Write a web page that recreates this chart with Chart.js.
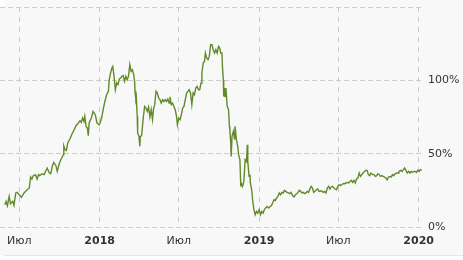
<!DOCTYPE html>
<html>
<head>
<meta charset="utf-8">
<script src="https://cdn.jsdelivr.net/npm/chart.js@4.4.1/dist/chart.umd.min.js"></script>
<style>
html,body{margin:0;padding:0;background:#fff;}
#wrap{position:relative;width:463px;height:255px;background:#f8f8f8;}
#corner{position:absolute;left:0;top:0;width:4px;height:7px;background:#fff;}
#foot{position:absolute;left:4px;top:255px;width:459px;height:1px;background:#e6e6e6;}
canvas{position:absolute;left:0;top:0;}
</style>
</head>
<body>
<div id="wrap"><canvas id="c" width="463" height="255"></canvas><div id="corner"></div></div>
<div id="foot"></div>
<script>
// days since 1 Jul 2017
const days = [-33,-30,-27,-23,-20,-15,-12,-8,-5,0,5,11,17,23,26,29,32,37,41,44,47,52,57,61,64,69,72,76,79,84,87,92,96,101,102,105,108,111,116,121,125,130,134,139,142,145,148,150,153,156,158,160,165,169,174,178,183,
185,189,192,196,200,204,206,209,212,214,217,220,223,226,229,232,235,238,241,244,247,250,253,256,259,262,264,265,267,268,270,271,274,276,277,280,282,284,287,290,293,296,299,302,305,307,310,313,316,319,322,325,328,331,334,337,340,343,
345,348,351,354,357,360,362,365,368,371,374,377,380,383,386,389,392,395,398,401,404,407,410,413,416,418,421,424,426,429,432,435,438,441,444,447,450,453,456,459,461,464,465,467,468,470,471,473,476,479,481,482,484,485,487,490,493,494,497,500,502,505,507,508,511,514,517,520,522,523,526,528,529,532,534,537,540,543,546,549,552,555,558,561,564,567,571,574,
577,580,583,586,589,592,595,598,601,604,607,610,613,616,619,622,626,629,632,635,638,641,644,647,650,653,656,659,662,665,668,671,674,677,680,683,686,690,693,696,699,702,705,708,711,714,717,720,723,726,729,732,735,738,741,745,748,751,754,757,760,763,766,769,772,775,778,781,784,787,790,793,796,799,802,805,809,812,815,818,821,824,827,830,833,836,839,842,845,848,851,854,857,860,864,867,869,873,876,879,882,885,888,891,894,897,900,903,906,909,912,915,918,921];
// change, %
const values = [15.2,17.5,14.5,20.9,15.9,17.5,14.7,23.2,23.6,22.0,20.2,23.2,25.0,26.6,34.1,32.7,35.0,35.7,32.7,35.7,35.0,36.3,35.7,38.4,40.2,36.8,36.3,41.8,44.0,41.8,37.9,43.6,46.4,49.3,55.4,52.7,52.2,57.3,60.0,63.6,65.9,69.1,70.4,72.5,71.3,74.3,72.0,75.4,68.6,67.5,62.2,70.9,74.3,78.8,76.6,70.9,69.7,
70.9,75.0,80.0,85.6,90.2,92.5,100.4,105.0,108.4,109.5,102.7,93.6,98.2,97.0,100.9,101.6,102.7,103.2,99.3,102.7,100.4,102.7,110.7,106.1,107.2,103.8,99.3,92.5,86.8,88.0,75.4,64.1,61.8,55.0,61.8,62.2,68.6,75.0,82.2,81.1,78.8,81.8,75.0,80.0,73.2,80.0,83.4,92.5,91.4,88.0,86.8,84.5,86.8,85.6,86.8,85.6,87.3,84.5,
88.8,83.4,84.5,82.2,80.0,75.4,69.7,74.3,73.2,76.6,81.1,82.2,86.8,91.4,92.5,93.6,91.4,83.4,91.4,90.2,94.8,95.9,93.6,93.6,98.2,105.0,111.8,112.9,118.6,115.2,114.1,116.3,124.3,124.3,120.9,118.6,120.9,118.6,123.1,122.0,118.6,118.6,109.5,100.4,89.0,94.8,89.0,94.8,82.2,80.0,68.6,66.3,57.3,48.1,61.8,65.2,59.5,68.6,59.5,55.0,49.3,45.9,27.7,30.0,27.7,31.1,45.9,44.7,56.1,44.7,34.5,35.7,30.0,25.4,18.6,11.8,8.4,10.6,9.5,11.8,8.4,10.6,9.5,11.8,13.0,14.0,13.0,14.0,
14.5,16.4,18.6,18.1,19.8,20.9,23.2,22.0,23.6,23.2,25.0,24.3,23.6,23.2,22.7,23.6,21.3,20.5,22.0,22.7,23.6,25.0,24.3,23.2,23.6,22.7,23.2,24.3,23.6,25.9,27.7,26.6,23.6,24.3,25.4,25.9,24.3,24.7,24.3,23.6,24.3,23.2,26.6,27.7,25.9,27.3,27.7,26.6,25.9,25.4,27.7,28.8,28.2,28.8,29.5,29.5,30.0,30.4,30.0,31.1,31.8,30.4,31.8,30.0,32.7,33.4,36.8,34.5,35.7,36.8,37.9,38.6,38.6,35.7,35.0,36.8,35.7,35.7,34.5,35.0,36.3,35.7,34.5,35.0,34.5,34.1,33.4,32.2,34.1,34.5,34.1,35.7,35.0,36.3,36.8,36.8,37.9,38.6,37.9,39.1,40.2,38.6,36.8,37.9,36.8,37.9,37.2,37.9,37.9,37.2,38.6,37.9,39.1,38.6];

const tickDays = [0,184,365,549,730,914];
const tickLabels = ['Июл','2018','Июл','2019','Июл','2020'];
const yTicks = [0,50,100,150];
const yLabels = ['0%','50%','100%',''];

new Chart(document.getElementById('c'), {
  type: 'line',
  data: {
    datasets: [{
      data: days.map((d, i) => ({x: d, y: values[i]})),
      borderColor: '#628a2b',
      borderWidth: 1.4,
      pointRadius: 0,
      tension: 0,
      fill: false
    }]
  },
  options: {
    responsive: false,
    animation: false,
    events: [],
    layout: {padding: {top: 7, left: 0, right: 0, bottom: 0}},
    plugins: {legend: {display: false}, tooltip: {enabled: false}},
    scales: {
      x: {
        type: 'linear', min: -44, max: 924,
        afterBuildTicks: s => { s.ticks = tickDays.map(v => ({value: v})); },
        afterFit: s => { s.height = 28; s.paddingLeft = 0; s.paddingRight = 0; },
        ticks: {
          autoSkip: false, maxRotation: 0, padding: 8, color: '#333',
          font: c => ({family: 'DejaVu Sans', size: 11, weight: /^\d/.test(tickLabels[c.index] || '') ? 'bold' : 'normal'}),
          callback: (v, i) => tickLabels[i]
        },
        grid: {color: '#cccccc', drawTicks: false, lineWidth: 1},
        border: {display: false, dash: [5, 5]}
      },
      y: {
        position: 'right', min: 0, max: 150,
        afterBuildTicks: s => { s.ticks = yTicks.map(v => ({value: v})); },
        afterFit: s => { s.width = 40; s.paddingTop = 0; s.paddingBottom = 0; },
        ticks: {
          padding: 5, color: '#333',
          font: {family: 'DejaVu Sans', size: 11},
          callback: (v, i) => yLabels[i]
        },
        grid: {color: '#cccccc', drawTicks: false, lineWidth: 1},
        border: {display: false, dash: [5, 3]}
      }
    }
  }
});
</script>
</body>
</html>
